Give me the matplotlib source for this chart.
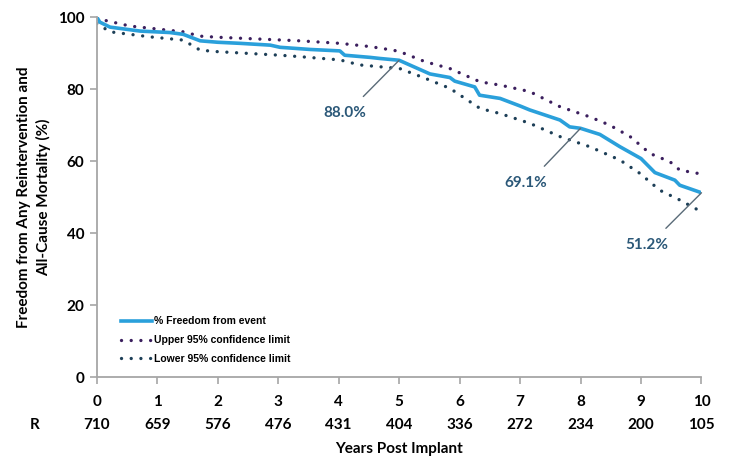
import matplotlib
matplotlib.use("Agg")
import matplotlib.pyplot as plt
from matplotlib.lines import Line2D

# Kaplan-Meier estimate of freedom from reintervention / all-cause mortality
years_main = [0, 0.05, 0.22, 0.72, 1.21, 1.43, 1.71, 2.0, 2.37, 2.87, 3.03, 3.53,
              4.02, 4.10, 4.52, 4.68, 5.0, 5.51, 5.84, 5.92, 6.25, 6.33, 6.67,
              7.0, 7.16, 7.66, 7.82, 8.0, 8.32, 8.65, 9.0, 9.23, 9.56, 9.64, 10.0]
freedom = [100.0, 98.6, 97.2, 96.1, 95.7, 95.2, 93.4, 93.0, 92.7, 92.2, 91.6, 91.0,
           90.6, 89.4, 88.8, 88.5, 88.0, 84.2, 83.2, 82.2, 80.6, 78.3, 77.4,
           75.3, 74.2, 71.4, 69.5, 69.1, 67.4, 64.0, 60.7, 56.8, 54.7, 53.3, 51.2]

years_upper = [0, 0.55, 1.43, 1.71, 1.99, 3.36, 4.02, 4.52, 4.90, 5.01, 5.43, 5.84,
               6.34, 6.67, 7.16, 7.66, 8.15, 8.48, 8.82, 9.15, 9.48, 9.64, 10.0]
upper_ci = [99.6, 97.5, 95.9, 94.7, 94.4, 93.4, 92.7, 91.8, 90.8, 90.4, 87.6, 85.7,
            82.0, 81.1, 79.3, 75.1, 72.3, 70.0, 66.8, 62.1, 59.8, 57.5, 56.4]

years_lower = [0, 0.22, 0.88, 1.43, 1.71, 1.99, 3.03, 3.36, 4.02, 4.35, 5.01, 5.43,
               5.84, 6.34, 6.67, 7.16, 7.66, 8.15, 8.65, 8.98, 9.31, 9.64, 10.0]
lower_ci = [98.2, 95.9, 94.5, 93.6, 90.8, 90.4, 89.4, 89.0, 88.1, 86.7, 85.7, 83.0,
            80.2, 74.6, 73.2, 70.5, 66.8, 64.0, 60.3, 56.6, 51.9, 49.2, 45.9]

# Numbers at risk
tick_years = list(range(0, 11))
at_risk = [710, 659, 576, 476, 431, 404, 336, 272, 234, 200, 105]

# Annotated point estimates
label_years = [5, 8, 10]
label_values = [88.0, 69.1, 51.2]

BLUE = "#2aa0db"
UPPER = "#3b1f5e"
LOWER = "#1d3f57"
LABEL = "#2b5878"
GREY = "#a6a6a6"
FONT = "Lato"

fig = plt.figure(figsize=(7.33, 4.61), dpi=100)
ax = fig.add_axes([0.132, 0.182, 0.825, 0.781])

dot_style = dict(linestyle=(0, (0.01, 2.9)), dash_capstyle="round", lw=2.4)
ax.plot(years_upper, upper_ci, color=UPPER, **dot_style)
ax.plot(years_lower, lower_ci, color=LOWER, **dot_style)
ax.plot(years_main, freedom, color=BLUE, lw=2.6, solid_joinstyle="round")

ax.set_xlim(0, 10)
ax.set_ylim(0, 100)
ax.set_xticks(tick_years)
ax.set_yticks([0, 20, 40, 60, 80, 100])
ax.set_xticklabels([str(y) for y in tick_years])
for lab in ax.get_xticklabels() + ax.get_yticklabels():
    lab.set_fontfamily(FONT)
    lab.set_fontweight("bold")
    lab.set_fontsize(11)
ax.tick_params(axis="both", colors=GREY, length=5, width=1.2, labelcolor="black")
ax.tick_params(axis="x", pad=8)
ax.tick_params(axis="y", pad=4)

for side in ("top", "right"):
    ax.spines[side].set_visible(False)
for side in ("left", "bottom"):
    ax.spines[side].set_color(GREY)
    ax.spines[side].set_linewidth(1.3)

# Number-at-risk row
row_tf = ax.get_xaxis_transform()
for yr, n in zip(tick_years, at_risk):
    ax.text(yr, -0.132, str(n), transform=row_tf, ha="center", va="center",
            fontsize=11, fontweight="bold", family=FONT, clip_on=False)
ax.text(-0.103, -0.132, "R", transform=ax.transAxes, ha="center", va="center",
        fontsize=11, fontweight="bold", family=FONT)

ax.set_xlabel("Years Post Implant", fontsize=11, fontweight="bold", family=FONT,
              labelpad=24)
ax.set_ylabel("Freedom from Any Reintervention and\nAll-Cause Mortality (%)",
              fontsize=11, fontweight="bold", family=FONT, labelpad=5,
              linespacing=1.35)

# Leader-line labels for the point estimates
text_offsets = [(-0.90, -14.7), (-0.90, -15.2), (-0.90, -14.5)]
for yr, val, (dx, dy) in zip(label_years, label_values, text_offsets):
    ax.annotate(f"{val:.1f}%", xy=(yr, val), xytext=(yr + dx, val + dy),
                ha="center", va="center", fontsize=11, fontweight="bold",
                family=FONT, color=LABEL,
                arrowprops=dict(arrowstyle="-", color="#5a6b78", lw=1.0,
                                shrinkA=7, shrinkB=0, relpos=(0.55, 0.5)))

handles = [
    Line2D([], [], color=BLUE, lw=2.6),
    Line2D([], [], color=UPPER, **dot_style),
    Line2D([], [], color=LOWER, **dot_style),
]
names = ["% Freedom from event", "Upper 95% confidence limit",
         "Lower 95% confidence limit"]
leg = ax.legend(handles, names, loc="lower left", bbox_to_anchor=(0.025, 0.01),
                frameon=False, handlelength=3.0, handletextpad=0.1,
                labelspacing=0.85,
                prop={"family": "Liberation Sans", "weight": "bold", "size": 7.5})

fig.savefig("out.png", dpi=100)
